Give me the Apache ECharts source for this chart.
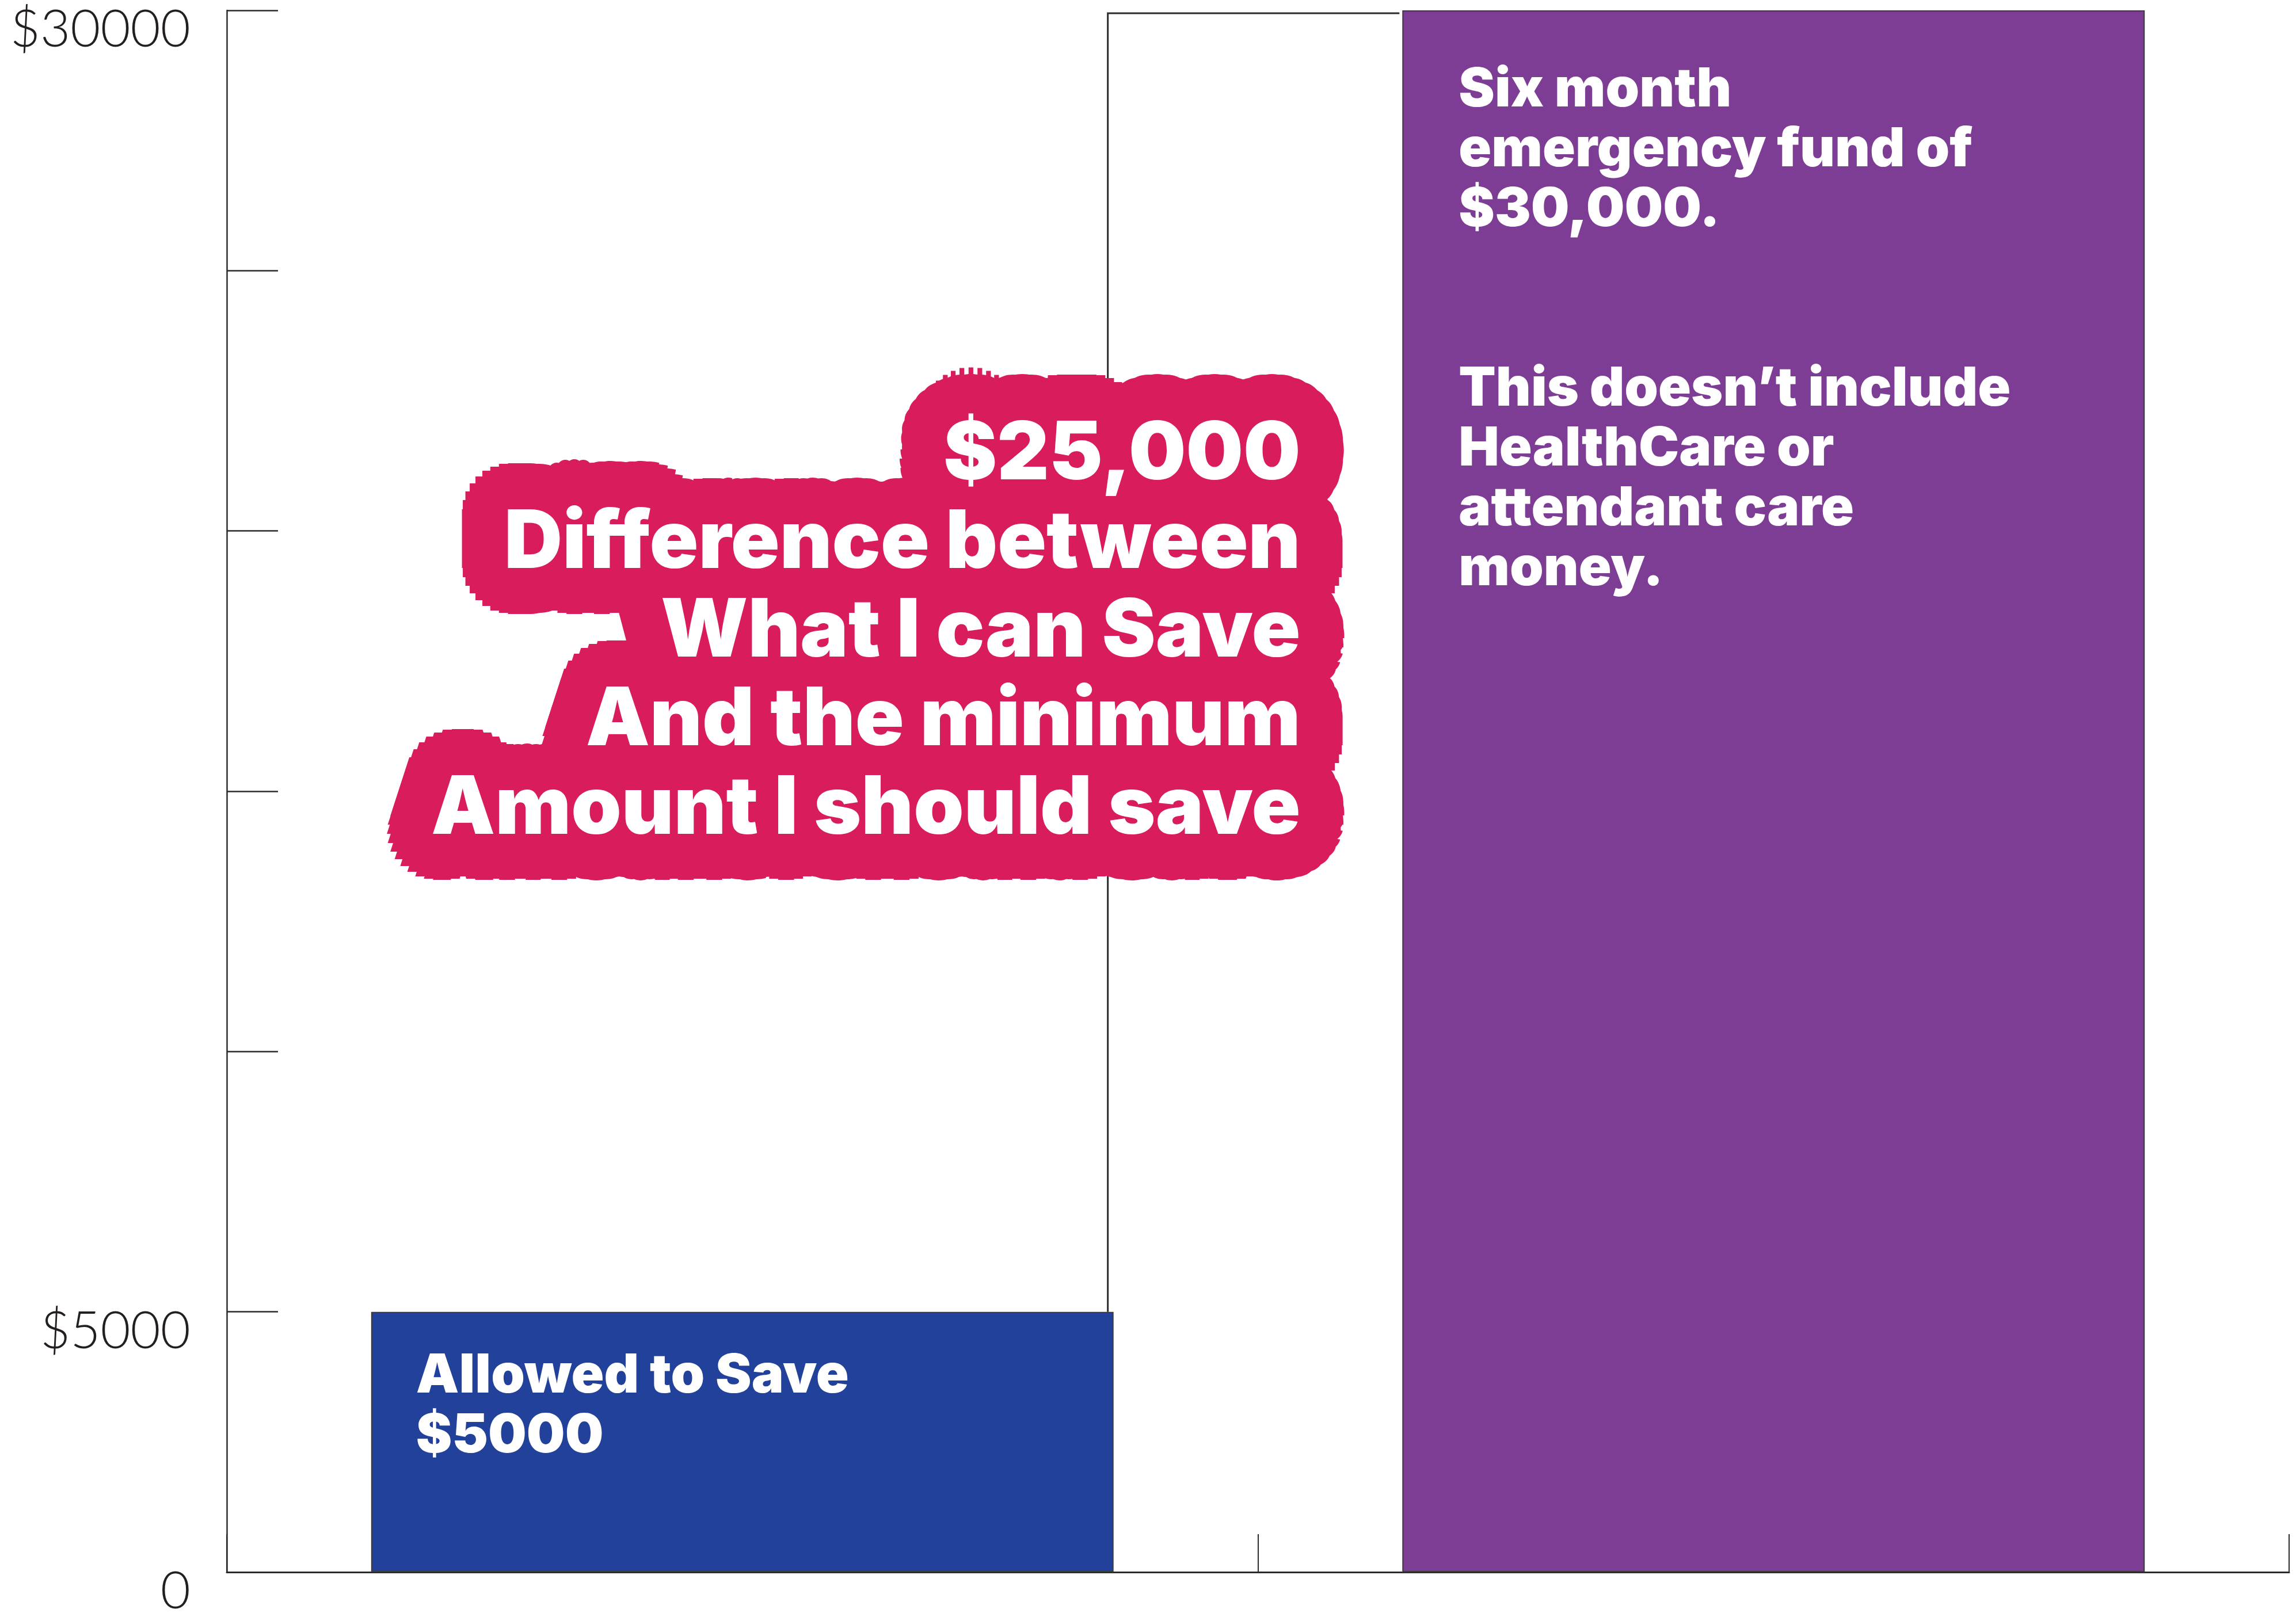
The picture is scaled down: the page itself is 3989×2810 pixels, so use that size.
<!DOCTYPE html>
<html>
<head>
<meta charset="utf-8">
<title>Emergency fund gap</title>
<script src="https://cdn.jsdelivr.net/npm/echarts@6/dist/echarts.min.js"></script>
<style>
  html, body { margin: 0; padding: 0; background: #fff; }
  #chart { width: 3989px; height: 2810px; }
</style>
</head>
<body>
<div id="chart"></div>
<script>
var categories = ['Allowed to Save', 'Six month emergency fund'];
var amounts = [5000, 30000];
var barColors = ['#22419a', '#7e3d95'];
var barLabels = [
  'Allowed to Save\n$5000',
  'Six month\nemergency fund of\n$30,000.\n\n\nThis doesn\u2019t include\nHealthCare or\nattendant care\nmoney.'
];
var yLabelValues = [0, 5000, 30000];
var yLabelTexts = ['0', '$5000', '$30000'];
var noteLines = ['Difference between', 'What I can Save', 'And the minimum', 'Amount I should save'];

(function() {
  var ink = '#2b2b2b';
  var pink = '#d91c5c';
  var boldFont = 'Inter, "Open Sans", sans-serif';

  var gap = amounts[1] - amounts[0];
  var noteText = ['$' + gap.toLocaleString('en-US')].concat(noteLines).join('\n');

  // offsets for a round "brush" behind the note text
  var rings = [[0, 1], [16, 8], [32, 12], [48, 18], [64, 24], [80, 32]];
  var offsets = [];
  rings.forEach(function(r) {
    for (var i = 0; i < r[1]; i++) {
      var a = i / r[1] * Math.PI * 2;
      offsets.push([r[0] * Math.cos(a), r[0] * Math.sin(a)]);
    }
  });

  function renderGap(params, api) {
    var low = api.coord([api.value(0), api.value(1)]);
    var high = api.coord([api.value(0), api.value(2)]);
    var band = api.size([1, 0])[0];
    var barW = band * 0.72;
    var xL = low[0] + barW / 2 - 10;
    var xEnd = low[0] + band - barW / 2 - 5;
    var children = [{
      type: 'polyline',
      shape: { points: [[xL, low[1]], [xL, high[1] + 5], [xEnd, high[1] + 5]] },
      style: { stroke: ink, lineWidth: 3, fill: null }
    }];
    var ax = low[0] + band / 2 + 74;
    var ay = (low[1] + high[1]) / 2 - 50;
    var txt = {
      text: noteText, fontSize: 140, fontWeight: 900, fontFamily: boldFont,
      align: 'right', verticalAlign: 'middle', lineHeight: 154
    };
    offsets.forEach(function(o) {
      children.push({
        type: 'text', x: ax + o[0], y: ay + o[1],
        style: echarts.util.extend({ fill: pink }, txt)
      });
    });
    children.push({ type: 'text', x: ax, y: ay, style: echarts.util.extend({ fill: '#fff' }, txt) });
    return { type: 'group', children: children };
  }

  var labelOffsets = [[78, 60], [98, 87]];

  var chart = echarts.init(document.getElementById('chart'));
  chart.setOption({
    animation: false,
    backgroundColor: '#fff',
    grid: { left: 394, right: 12, top: 18, bottom: 78, outerBoundsMode: 'none' },
    xAxis: {
      type: 'category',
      data: categories,
      boundaryGap: true,
      axisLine: { lineStyle: { color: ink, width: 3 } },
      axisTick: { show: true, inside: true, length: 66, lineStyle: { color: ink, width: 2 } },
      axisLabel: { show: false },
      splitLine: { show: false }
    },
    yAxis: {
      type: 'value',
      min: 0, max: 30000, interval: 5000,
      axisLine: { show: true, lineStyle: { color: ink, width: 2.5 } },
      axisTick: { show: true, inside: true, length: 89, lineStyle: { color: ink, width: 2.5 } },
      axisLabel: {
        fontFamily: 'Lato', fontWeight: 300, fontSize: 90, color: '#231f20',
        margin: 63, verticalAlign: 'top', lineHeight: 68,
        formatter: function(v) {
          var i = yLabelValues.indexOf(v);
          return i < 0 ? '' : yLabelTexts[i];
        }
      },
      splitLine: { show: false }
    },
    series: [
      {
        type: 'custom',
        z: 1,
        renderItem: renderGap,
        data: [[0, amounts[0], amounts[1]]]
      },
      {
        type: 'bar',
        z: 2,
        barWidth: '72%',
        data: amounts.map(function(v, i) {
          return {
            value: v,
            itemStyle: { color: barColors[i], borderColor: '#3a3a3a', borderWidth: 2 },
            label: {
              show: true,
              position: 'insideTopLeft',
              distance: 0,
              offset: labelOffsets[i],
              formatter: barLabels[i],
              color: '#fff',
              fontFamily: boldFont,
              fontWeight: 900,
              fontSize: 94,
              lineHeight: 104,
              align: 'left',
              verticalAlign: 'top'
            }
          };
        })
      }
    ]
  });
  window.addEventListener('resize', function() { chart.resize(); });
})();
</script>
</body>
</html>
